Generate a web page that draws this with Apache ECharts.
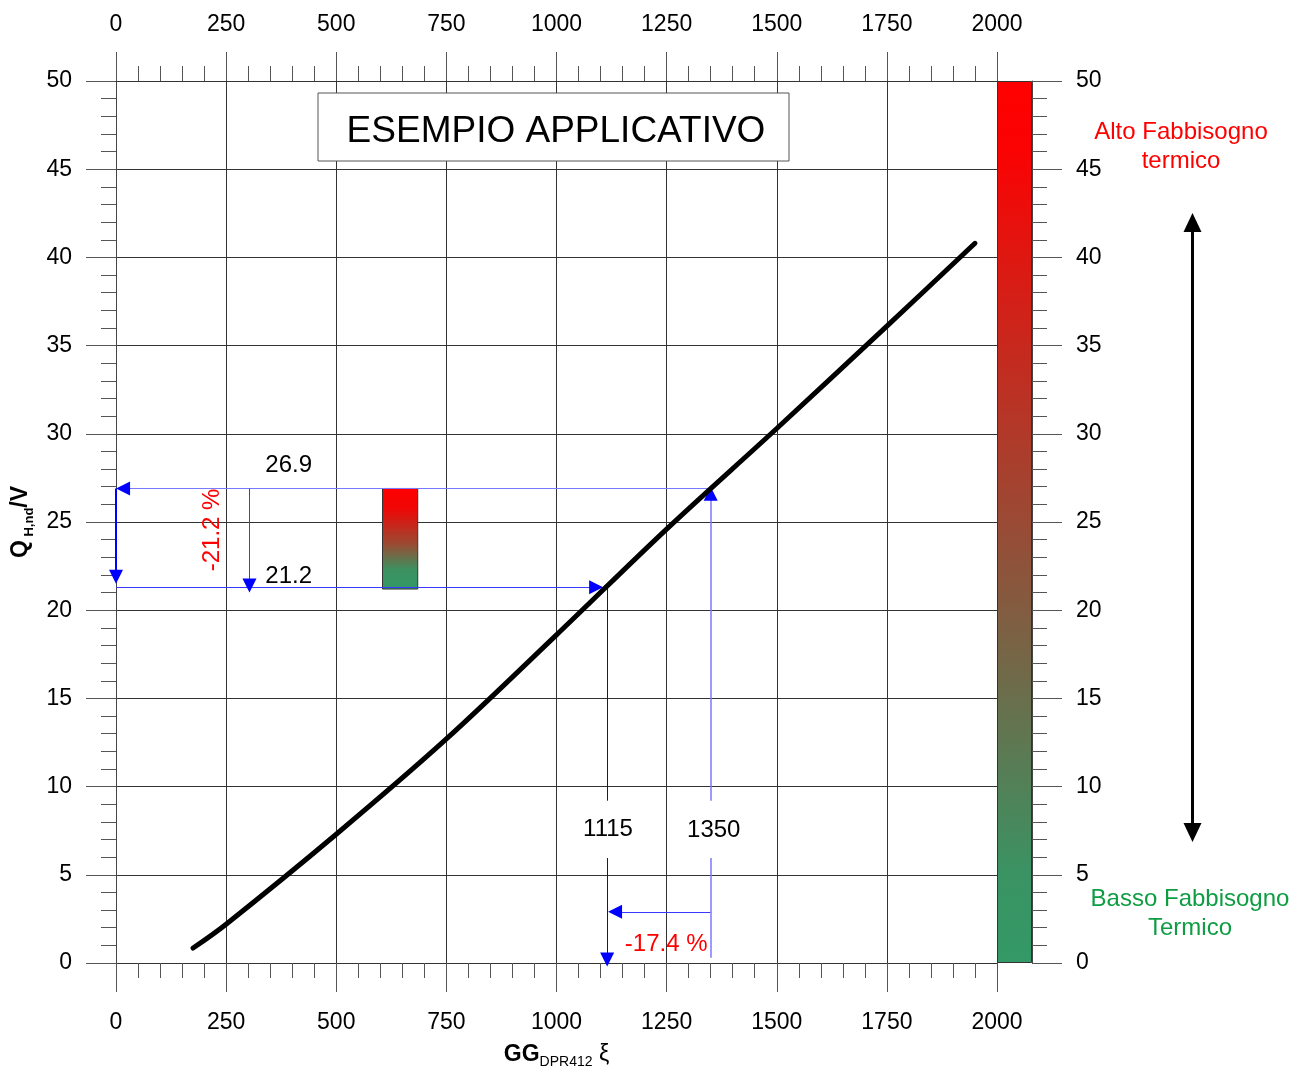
<!DOCTYPE html>
<html>
<head>
<meta charset="utf-8">
<script src="https://cdn.jsdelivr.net/npm/echarts@6/dist/echarts.min.js"></script>
<style>
html,body{margin:0;padding:0;background:#fff;}
#chart{width:1303px;height:1068px;}
</style>
</head>
<body>
<div id="chart"></div>
<script>
// ---- data ----
const curveX = [175, 250, 500, 750, 1000, 1250, 1500, 1750, 1950];
const curveY = [0.85, 2.2, 7.3, 12.7, 18.6, 24.6, 30.3, 36.1, 40.8];

// annotation segments [x1, y1, x2, y2]
const segments = [
  [1350, 26.9, 16, 26.9],
  [0, 26.9, 0, 21.9],
  [0, 21.3, 1090, 21.3],
  [303, 26.9, 303, 21.4],
  [1115, 5.95, 1115, 0.2],
  [1350, 9.2, 1350, 26.6],
  [1350, 2.9, 1133, 2.9],
  [1115, 21.3, 1115, 9.2],
  [1350, 5.95, 1350, 0.3]
];
const hasArrow = [true, true, true, true, true, true, true, false, false];

const labelNames = ['26.9', '21.2', '1115', '1350'];
const labelX = [392, 392, 1117, 1357];
const labelY = [28.2, 21.9, 7.6, 7.5];

const redNames = ['-21.2 %', '-17.4 %'];
const redX = [218, 1249];
const redY = [24.55, 1.08];
const redRotate = [90, 0];

const miniBar = [605, 685, 21.2, 26.9];
const colorBarMax = [50];

// ---- styles ----
const FONT = '"Liberation Sans", Arial, sans-serif';
const segColor = ['#7a7aff', '#0000ff', '#3a3aff', '#3a3aff', '#0000ff', '#7a7aff', '#3a3aff', '#0000ff', '#7a7aff'];
const segWidth = [1, 2, 1, 1, 1, 1.5, 1, 1, 1.5];

const chart = echarts.init(document.getElementById('chart'), null, {renderer: 'canvas'});
const fmt = v => String(v);

function valueAxisX(pos, extra) {
  return Object.assign({
    type: 'value', gridIndex: 0, min: 0, max: 2000, interval: 250, position: pos,
    axisLine: {show: true, onZero: false, lineStyle: {color: '#333', width: 1}},
    axisTick: {show: true, inside: false, length: 29, lineStyle: {color: '#555'}},
    minorTick: {show: true, splitNumber: 5, length: 15, lineStyle: {color: '#555'}},
    axisLabel: {show: true, margin: pos === 'top' ? 45 : 48, fontSize: 23, color: '#000', fontFamily: FONT, formatter: fmt},
    splitLine: {show: false}
  }, extra || {});
}
function valueAxisY(grid, pos, extra) {
  return Object.assign({
    type: 'value', gridIndex: grid, min: 0, max: 50, interval: 5, position: pos,
    axisLine: {show: true, onZero: false, lineStyle: {color: '#444', width: 1}},
    axisTick: {show: true, inside: false, length: 30, lineStyle: {color: '#555'}},
    minorTick: {show: true, splitNumber: 5, length: 15, lineStyle: {color: '#555'}},
    axisLabel: {show: true, margin: 44, fontSize: 23, color: '#000', fontFamily: FONT, formatter: fmt, padding: [3, 0, 0, 0]},
    splitLine: {show: false}
  }, extra || {});
}

const curveData = curveX.map((x, i) => [x, curveY[i]]);

const plainLines = segments.map((s, i) => ({
  coords: [[s[0], s[1]], [s[2], s[3]]],
  lineStyle: {color: segColor[i], width: segWidth[i], opacity: 1}
}));
// arrow heads: a short stub at the end of each arrowed segment, pointing along it
const arrowStubs = segments.filter((s, i) => hasArrow[i]).map(s => ({
  coords: [[s[2] - (s[2] - s[0]) * 0.01, s[3] - (s[3] - s[1]) * 0.01], [s[2], s[3]]]
}));

const option = {
  animation: false,
  backgroundColor: '#fff',
  textStyle: {fontFamily: FONT},
  grid: [
    {left: 116, right: 306, top: 81, bottom: 105, containLabel: false, outerBoundsMode: 'none'},
    {left: 997, width: 35, top: 81, bottom: 105, containLabel: false, outerBoundsMode: 'none'}
  ],
  xAxis: [
    valueAxisX('bottom', {
      splitLine: {show: true, lineStyle: {color: '#333', width: 1}},
      name: '{g|GG}{s|DPR412}{x| ξ}',
      nameLocation: 'middle', nameGap: 80,
      nameTextStyle: {
        rich: {
          g: {fontSize: 23, fontWeight: 'bold', color: '#000', fontFamily: FONT},
          s: {fontSize: 14, color: '#000', verticalAlign: 'bottom', fontFamily: FONT, padding: [0, 0, -3, 0]},
          x: {fontSize: 23, color: '#000', fontFamily: FONT}
        }
      }
    }),
    valueAxisX('top'),
    {type: 'category', gridIndex: 1, data: ['bar'], show: false}
  ],
  yAxis: [
    valueAxisY(0, 'left', {
      splitLine: {show: true, lineStyle: {color: '#333', width: 1}},
      name: '{q|Q}{s| H,nd}{q|/V}',
      nameLocation: 'middle', nameGap: 82,
      nameTextStyle: {
        rich: {
          q: {fontSize: 23, fontWeight: 'bold', color: '#000', fontFamily: FONT},
          s: {fontSize: 13, fontWeight: 'bold', color: '#000', verticalAlign: 'bottom', fontFamily: FONT, padding: [0, 0, -3, 0]}
        }
      }
    }),
    valueAxisY(1, 'right')
  ],
  series: [
    {
      type: 'bar', xAxisIndex: 2, yAxisIndex: 1, data: colorBarMax,
      barWidth: '100%', barCategoryGap: 0, silent: true,
      itemStyle: {
        color: new echarts.graphic.LinearGradient(0, 0, 0, 1, [
          {offset: 0, color: '#ff0000'},
          {offset: 0.08, color: '#fa0303'},
          {offset: 0.5, color: '#9a4a35'},
          {offset: 0.9, color: '#3a9363'},
          {offset: 1, color: '#339966'}
        ]),
        borderColor: '#333', borderWidth: 1
      },
      z: 5
    },
    {
      type: 'custom', xAxisIndex: 0, yAxisIndex: 0, silent: true,
      data: [miniBar],
      encode: {x: [0, 1], y: [2, 3]},
      renderItem: function (params, api) {
        const p1 = api.coord([api.value(0), api.value(3)]);
        const p2 = api.coord([api.value(1), api.value(2)]);
        return {
          type: 'rect',
          shape: {x: p1[0], y: p1[1], width: p2[0] - p1[0], height: p2[1] - p1[1]},
          style: {
            fill: new echarts.graphic.LinearGradient(0, 0, 0, 1, [
              {offset: 0, color: '#ff0000'},
              {offset: 0.2, color: '#f00606'},
              {offset: 0.55, color: '#9a4a32'},
              {offset: 0.8, color: '#3d9060'},
              {offset: 1, color: '#339966'}
            ]),
            stroke: '#333', lineWidth: 1
          }
        };
      },
      z: 6
    },
    {
      type: 'lines', coordinateSystem: 'cartesian2d', xAxisIndex: 0, yAxisIndex: 0,
      silent: true, symbol: 'none', clip: false,
      lineStyle: {opacity: 1},
      data: plainLines,
      z: 7
    },
    {
      type: 'lines', coordinateSystem: 'cartesian2d', xAxisIndex: 0, yAxisIndex: 0,
      silent: true, symbol: ['none', 'triangle'], symbolSize: 14, clip: false,
      lineStyle: {color: '#0000ff', width: 1, opacity: 1},
      data: arrowStubs,
      z: 7
    },
    {
      type: 'line', xAxisIndex: 0, yAxisIndex: 0, data: curveData,
      smooth: 0.35, symbol: 'none', silent: true,
      lineStyle: {color: '#000', width: 5, cap: 'round'},
      z: 8
    },
    {
      type: 'scatter', xAxisIndex: 0, yAxisIndex: 0, silent: true, symbolSize: 1,
      itemStyle: {color: 'rgba(0,0,0,0)', opacity: 1},
      data: labelNames.map((n, i) => ({name: n, value: [labelX[i], labelY[i]]})),
      label: {show: true, position: 'inside', formatter: '{b}', fontSize: 24, color: '#000', opacity: 1, textBorderWidth: 0, fontFamily: FONT},
      z: 9
    },
    {
      type: 'scatter', xAxisIndex: 0, yAxisIndex: 0, silent: true, symbolSize: 1,
      itemStyle: {color: 'rgba(0,0,0,0)', opacity: 1},
      data: redNames.map((n, i) => ({name: n, value: [redX[i], redY[i]], label: {rotate: redRotate[i]}})),
      label: {show: true, position: 'inside', formatter: '{b}', fontSize: 24, color: '#ff0000', opacity: 1, textBorderWidth: 0, fontFamily: FONT},
      z: 9
    }
  ],
  graphic: [
    {type: 'rect', shape: {x: 318, y: 93, width: 471, height: 68}, style: {fill: '#fff', stroke: '#555', lineWidth: 1}, z: 100},
    {type: 'text', x: 556, y: 132, style: {text: 'ESEMPIO APPLICATIVO', fontSize: 37, fill: '#000', align: 'center', verticalAlign: 'middle', fontFamily: FONT}, z: 101},
    {type: 'text', x: 1181, y: 147, style: {text: 'Alto Fabbisogno\ntermico', fontSize: 24, lineHeight: 29, fill: '#ff0000', align: 'center', verticalAlign: 'middle', fontFamily: FONT}, z: 100},
    {type: 'text', x: 1190, y: 914, style: {text: 'Basso Fabbisogno\nTermico', fontSize: 24, lineHeight: 29, fill: '#0f9d44', align: 'center', verticalAlign: 'middle', fontFamily: FONT}, z: 100},
    {type: 'line', shape: {x1: 1192.5, y1: 228, x2: 1192.5, y2: 826}, style: {stroke: '#000', lineWidth: 3}, z: 100},
    {type: 'polygon', shape: {points: [[1192.5, 213], [1183.5, 232], [1201.5, 232]]}, style: {fill: '#000'}, z: 100},
    {type: 'polygon', shape: {points: [[1192.5, 842], [1183.5, 823], [1201.5, 823]]}, style: {fill: '#000'}, z: 100}
  ]
};
chart.setOption(option);
</script>
</body>
</html>
